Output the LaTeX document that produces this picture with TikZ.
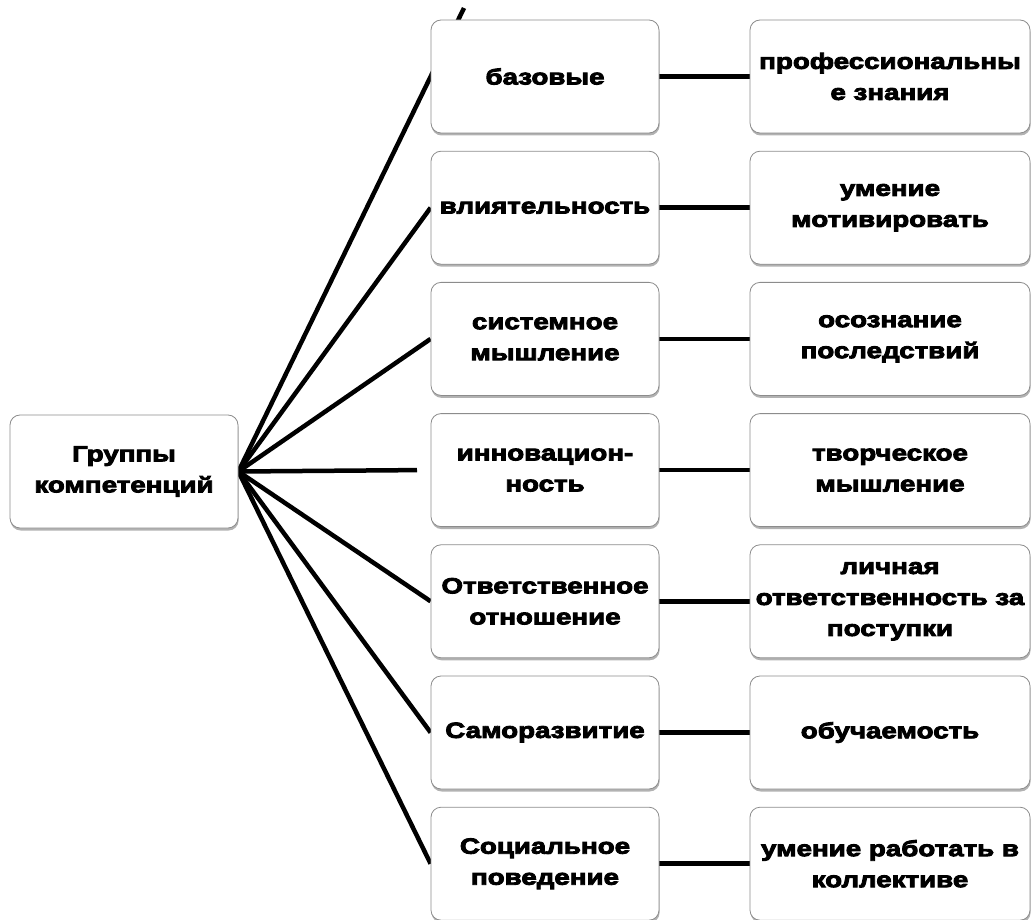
\documentclass[tikz,border=0pt]{standalone}
\usepackage{fontspec}
\setmainfont{Liberation Sans}[BoldFeatures={FakeStretch=1.26,FakeBold=4}]
\usetikzlibrary{shadows,backgrounds}
\definecolor{boxgray}{RGB}{140,140,140}
\tikzset{
  boxnode/.style={draw=boxgray, line width=0.8pt, fill=white, rounded corners=10pt,
    minimum width=228pt, minimum height=113pt, inner sep=0pt, align=center,
    font=\fontsize{22}{31}\selectfont\bfseries,
    drop shadow={shadow xshift=0.6pt, shadow yshift=-2.5pt, opacity=0.3, fill=black}},
  widebox/.style={boxnode, minimum width=280pt},
  link/.style={line width=4.5pt, black}
}
\begin{document}
\begin{tikzpicture}[x=1pt,y=-1pt]
\useasboundingbox (0,0) rectangle (1034,920);
% left
\node[boxnode] (g) at (124,471.5) {Группы\\компетенций};
% middle column
\node[boxnode] (m1) at (545,76.5) {базовые};
\node[boxnode] (m2) at (545,207.7) {влиятельность};
\node[boxnode] (m3) at (545,338.9) {системное\\мышление};
\node[boxnode] (m4) at (545,470.1) {инновацион-\\ность};
\node[boxnode] (m5) at (545,601.3) {Ответственное\\отношение};
\node[boxnode] (m6) at (545,732.5) {Саморазвитие};
\node[boxnode] (m7) at (545,863.7) {Социальное\\поведение};
% right column
\node[widebox] (r1) at (890,76.5) {профессиональны\\е знания};
\node[widebox] (r2) at (890,207.7) {умение\\мотивировать};
\node[widebox] (r3) at (890,338.9) {осознание\\последствий};
\node[widebox] (r4) at (890,470.1) {творческое\\мышление};
\node[widebox] (r5) at (890,601.3) {личная\\ответственность за\\поступки};
\node[widebox] (r6) at (890,732.5) {обучаемость};
\node[widebox] (r7) at (890,863.7) {умение работать в\\коллективе};
\coordinate (e1) at (464,8);
\coordinate (e4) at (417,470.1);
\begin{scope}[on background layer]
\draw[link] (g.east) -- (e1);
\draw[link] (g.east) -- (m2.west);
\draw[link] (g.east) -- (m3.west);
\draw[link] (g.east) -- (e4);
\draw[link] (g.east) -- (m5.west);
\draw[link] (g.east) -- (m6.west);
\draw[link] (g.east) -- (m7.west);
\foreach \i in {1,...,7} {\draw[link] (m\i.east) -- (r\i.west);}
\end{scope}
\end{tikzpicture}
\end{document}
